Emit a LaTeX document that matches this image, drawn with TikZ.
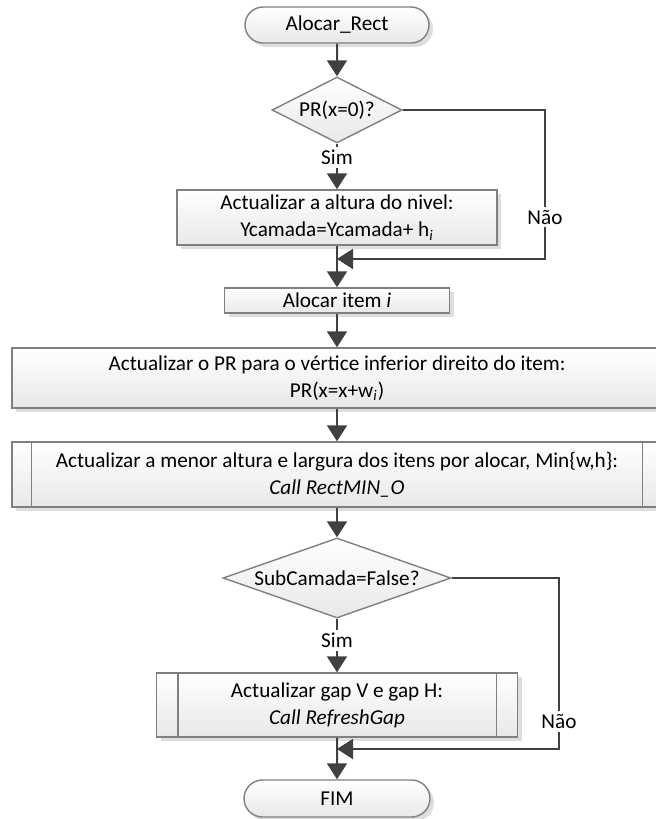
\documentclass[tikz,border=0pt]{standalone}
\usepackage{fontspec}
\setmainfont{Carlito}
\usetikzlibrary{arrows.meta,positioning,shapes.geometric,shapes.misc,shadows}

\tikzset{
  boxfill/.style={draw=black!50, line width=0.7pt, top color=white, bottom color=black!9},
  boxshadow/.style={drop shadow={shadow xshift=2pt, shadow yshift=-2pt, fill=black!13, opacity=1}},
  terminal/.style={boxfill, boxshadow, rounded rectangle, minimum width=94pt, minimum height=18pt, inner sep=1pt},
  process/.style={boxfill, boxshadow, rectangle, align=center, inner sep=1pt},
  decision/.style={boxfill, diamond, inner sep=0pt, aspect=2},
  sideline/.style={draw=black!50, line width=0.7pt},
  flow/.style={-{Triangle[width=10pt,length=8pt]}, draw=black!75, line width=1pt},
  tag/.style={fill=white, inner sep=1.5pt},
}

\begin{document}
\begin{tikzpicture}[x=0.5pt, y=-0.5pt, font=\fontsize{10.6}{13.5}\selectfont]
\useasboundingbox (0,0) rectangle (656,819);

% steps
\node[terminal] (start) at (337,25) {Alocar\_Rect};
\node[decision, minimum width=65pt, minimum height=33pt] (test1) at (337,110) {PR(x=0)?};
\node[process, minimum width=160pt, minimum height=27.5pt] (level) at (337,217.5)
  {Actualizar a altura do nivel:\\Ycamada=Ycamada+ h\textsubscript{\textit{i}}};
\node[process, minimum width=112.5pt, minimum height=12.5pt] (alloc) at (337,300.5) {Alocar item \textit{i}};
\node[process, minimum width=325pt, minimum height=30pt] (point) at (337,378)
  {Actualizar o PR para o vértice inferior direito do item:\\PR(x=x+w\textsubscript{\textit{i}})};
\node[process, minimum width=325pt, minimum height=32.5pt] (minwh) at (337,474.5)
  {Actualizar a menor altura e largura dos itens por alocar, Min\{w,h\}:\\\textit{Call RectMIN\_O}};
\node[decision, minimum width=114pt, minimum height=40pt, aspect=2.85] (test2) at (337,578) {SubCamada=False?};
\node[process, minimum width=180.5pt, minimum height=32pt] (gap) at (337,705)
  {Actualizar gap V e gap H:\\\textit{Call RefreshGap}};
\node[terminal, minimum width=95pt, minimum height=18.5pt] (stop) at (337,798.5) {FIM};

% subroutine bars
\draw[sideline] ([xshift=10pt]minwh.north west) -- ([xshift=10pt]minwh.south west);
\draw[sideline] ([xshift=-10pt]minwh.north east) -- ([xshift=-10pt]minwh.south east);
\draw[sideline] ([xshift=11pt]gap.north west) -- ([xshift=11pt]gap.south west);
\draw[sideline] ([xshift=-11pt]gap.north east) -- ([xshift=-11pt]gap.south east);

% joins
\coordinate (r1) at (545,259);
\coordinate (m1) at (337,259);
\coordinate (r2) at (559,749);
\coordinate (m2) at (337,749);

% arrows
\draw[flow] (start) -- (test1);
\draw[flow] (test1) -- node[tag, pos=0.3] {Sim} (level);
\draw[flow] (test1.east) -| node[tag, pos=0.86] {Não} (r1) -- (m1);
\draw[flow] (level) -- (alloc);
\draw[flow] (alloc) -- (point);
\draw[flow] (point) -- (minwh);
\draw[flow] (minwh) -- (test2);
\draw[flow] (test2) -- node[tag, pos=0.4] {Sim} (gap);
\draw[flow] (test2.east) -| node[tag, pos=0.92] {Não} (r2) -- (m2);
\draw[flow] (gap) -- (stop);
\end{tikzpicture}
\end{document}
